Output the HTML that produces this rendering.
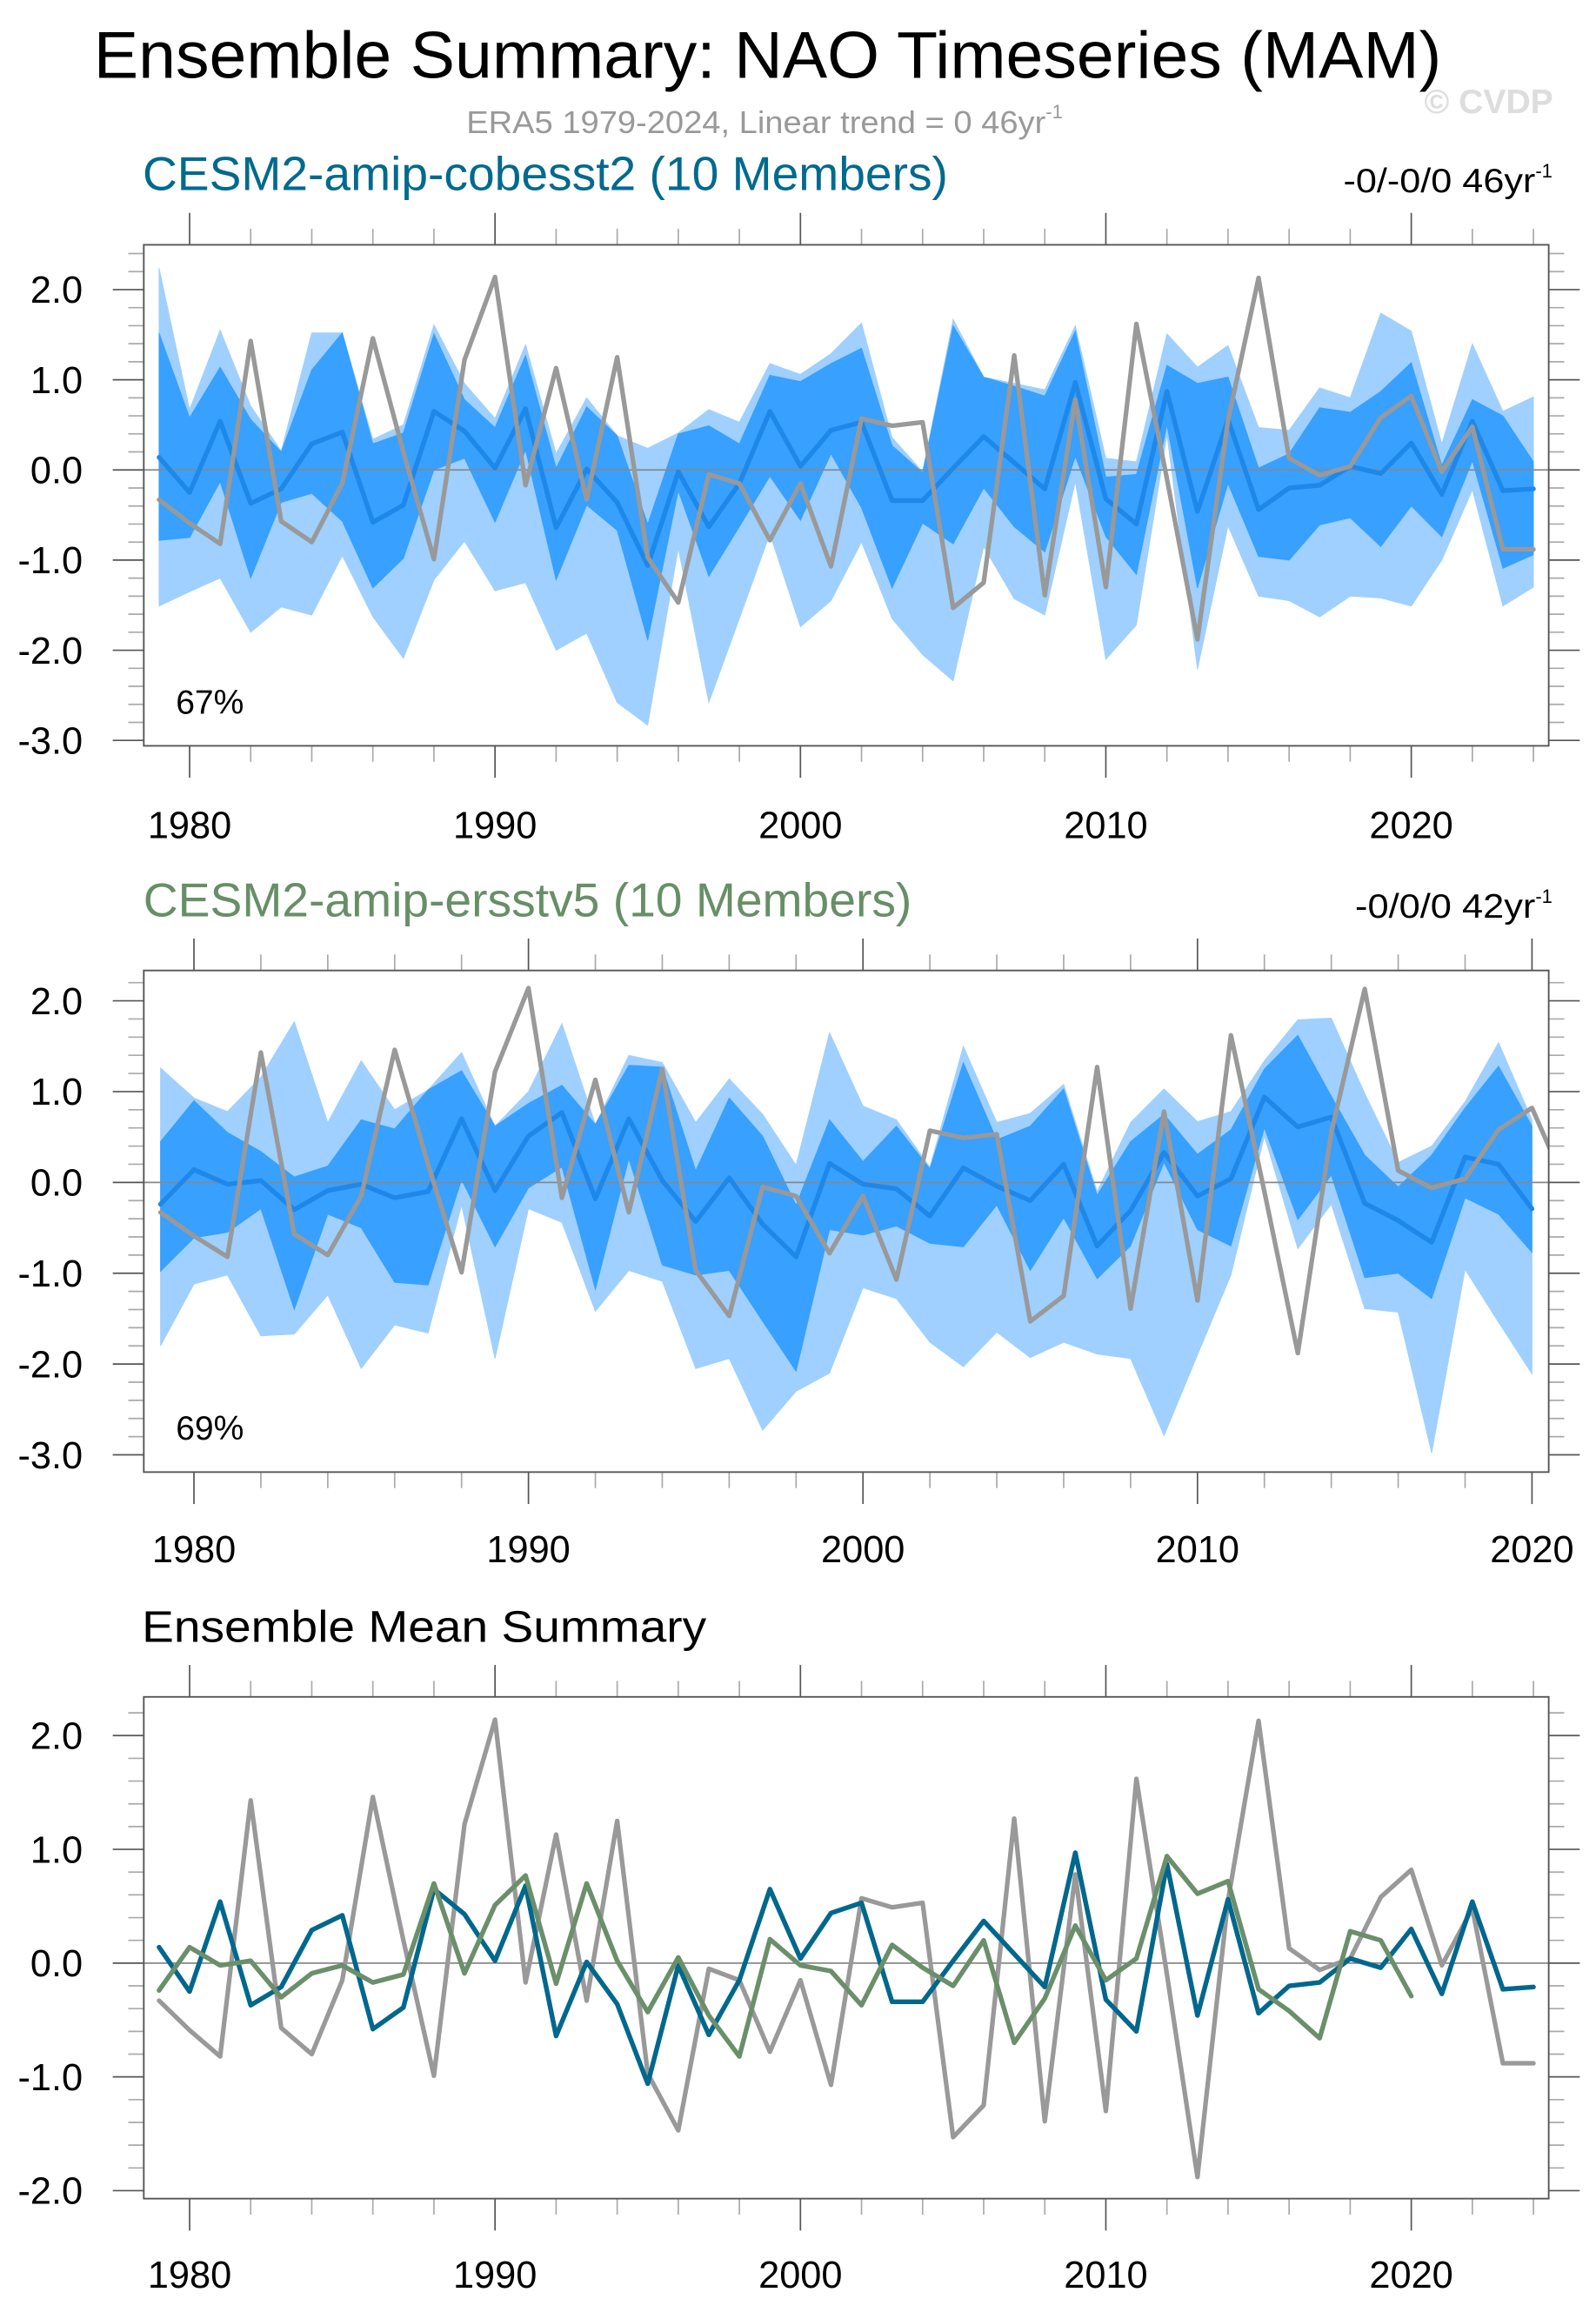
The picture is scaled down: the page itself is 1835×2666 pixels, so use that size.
<!DOCTYPE html>
<html><head><meta charset="utf-8"><title>Ensemble Summary: NAO Timeseries (MAM)</title>
<style>html,body{margin:0;padding:0;background:#fff}svg{display:block}text{font-family:"Liberation Sans",Arial,sans-serif}</style>
</head><body>
<svg id="chart" xmlns="http://www.w3.org/2000/svg" width="1835" height="2666" viewBox="0 0 1080 1569">
<rect x="0" y="0" width="1080" height="1569" fill="#fff"/>
<text x="63.4" y="52.5" font-size="45" textLength="912" lengthAdjust="spacingAndGlyphs" fill="#000">Ensemble Summary: NAO Timeseries (MAM)</text>
<text x="315.6" y="90" font-size="21.5" fill="#999"><tspan textLength="392" lengthAdjust="spacingAndGlyphs">ERA5 1979-2024, Linear trend = 0 46yr</tspan><tspan font-size="13" dy="-10">-1</tspan></text>
<text x="1051" y="76.5" font-size="23" font-weight="bold" fill="#ddd" text-anchor="end">© CVDP</text>
<text x="96.5" y="128.5" font-size="32" textLength="545" lengthAdjust="spacingAndGlyphs" fill="#006a8e">CESM2-amip-cobesst2 (10 Members)</text>
<text x="909" y="130" font-size="23" fill="#000"><tspan textLength="130" lengthAdjust="spacingAndGlyphs">-0/-0/0 46yr</tspan><tspan font-size="13" dy="-10">-1</tspan></text>
<text x="97" y="620" font-size="32" textLength="520" lengthAdjust="spacingAndGlyphs" fill="#678f67">CESM2-amip-ersstv5 (10 Members)</text>
<text x="917" y="621" font-size="23" fill="#000"><tspan textLength="122" lengthAdjust="spacingAndGlyphs">-0/0/0 42yr</tspan><tspan font-size="13" dy="-10">-1</tspan></text>
<text x="96" y="1111" font-size="30" textLength="382" lengthAdjust="spacingAndGlyphs" fill="#000">Ensemble Mean Summary</text>
<g id="layer"></g>
</svg>
<script>
// ---- data ----
const years = [1979,1980,1981,1982,1983,1984,1985,1986,1987,1988,1989,1990,1991,1992,1993,1994,1995,1996,1997,1998,1999,2000,2001,2002,2003,2004,2005,2006,2007,2008,2009,2010,2011,2012,2013,2014,2015,2016,2017,2018,2019,2020,2021,2022,2023,2024];
const era5 = [-0.33,-0.59,-0.82,1.43,-0.57,-0.80,-0.15,1.46,0.20,-0.99,1.22,2.14,-0.17,1.13,-0.33,1.25,-0.97,-1.47,-0.05,-0.15,-0.78,-0.15,-1.07,0.57,0.49,0.53,-1.53,-1.25,1.27,-1.39,0.78,-1.30,1.62,-0.10,-1.88,0.55,2.13,0.13,-0.06,0.04,0.58,0.82,-0.02,0.48,-0.88,-0.88];
const cobMean = [0.14,-0.25,0.54,-0.37,-0.21,0.29,0.42,-0.58,-0.39,0.65,0.43,0.02,0.68,-0.64,0.01,-0.36,-1.06,-0.02,-0.63,-0.15,0.65,0.04,0.44,0.53,-0.34,-0.34,0.02,0.37,0.08,-0.21,0.97,-0.32,-0.60,0.87,-0.46,0.56,-0.44,-0.20,-0.17,0.04,-0.04,0.30,-0.27,0.54,-0.23,-0.21];
const cobMax = [2.24,0.67,1.55,0.71,0.21,1.52,1.52,0.34,0.50,1.61,0.96,0.57,1.39,0.18,0.80,0.38,0.24,0.41,0.67,0.53,1.18,1.06,1.29,1.63,0.36,-0.02,1.67,1.03,0.96,0.89,1.60,0.13,0.09,1.51,1.14,1.38,0.47,0.44,0.91,0.80,1.74,1.54,0.29,1.40,0.65,0.81];
const cobHi = [1.52,0.58,1.14,0.56,0.20,1.11,1.52,0.29,0.41,1.51,0.78,0.47,1.27,0.02,0.70,0.38,-0.60,0.40,0.49,0.29,1.05,0.98,1.18,1.35,0.27,-0.03,1.60,1.03,0.93,0.82,1.54,-0.08,-0.05,1.16,0.96,1.03,0.02,0.18,0.69,0.64,0.87,1.19,0.05,0.78,0.60,0.09];
const cobLo = [-0.78,-0.75,-0.13,-1.20,-0.36,-0.26,-0.57,-1.31,-0.98,0.00,0.13,-0.58,0.22,-1.22,-0.39,-0.67,-1.89,-0.23,-1.18,-0.63,-0.07,-0.56,0.18,-0.42,-1.31,-0.59,-0.82,-0.20,-0.63,-0.91,0.15,-0.74,-1.16,0.50,-1.31,-0.15,-0.96,-1.00,-0.61,-0.53,-0.85,-0.40,-0.74,0.10,-1.09,-0.94];
const cobMin = [-1.51,-1.35,-1.20,-1.80,-1.52,-1.61,-0.95,-1.63,-2.09,-1.22,-0.79,-1.34,-1.25,-2.00,-1.81,-2.58,-2.83,-0.87,-2.58,-1.65,-0.71,-1.74,-1.45,-0.80,-1.65,-2.05,-2.34,-0.85,-1.43,-1.61,-0.13,-2.10,-1.72,0.39,-2.21,-0.62,-1.40,-1.45,-1.63,-1.40,-1.42,-1.51,-1.00,-0.22,-1.51,-1.30];
const ersMean = [-0.24,0.14,-0.02,0.02,-0.30,-0.09,-0.02,-0.17,-0.10,0.70,-0.09,0.51,0.77,-0.18,0.70,0.02,-0.43,0.05,-0.46,-0.82,0.21,-0.02,-0.07,-0.37,0.16,-0.04,-0.20,0.20,-0.70,-0.31,0.33,-0.15,0.04,0.94,0.61,0.72,-0.23,-0.42,-0.66,0.28,0.20,-0.29];
const ersMax = [1.26,0.93,0.78,1.16,1.77,0.66,1.34,0.80,1.02,1.43,0.62,1.00,1.75,0.64,1.40,1.32,0.66,1.14,0.75,0.19,1.65,0.84,0.69,0.17,1.50,0.66,0.76,1.08,-0.10,0.66,1.03,0.67,0.78,1.34,1.79,1.81,0.98,0.22,0.40,0.89,1.54,0.69];
const ersHi = [0.45,0.90,0.55,0.34,0.06,0.18,0.69,0.59,1.02,1.23,0.62,0.87,1.07,0.64,1.29,1.27,0.13,0.93,0.51,-0.25,0.69,0.23,0.62,0.15,1.32,0.47,0.62,1.03,-0.14,0.45,0.75,0.31,0.58,1.25,1.62,0.95,0.30,-0.05,0.30,0.82,1.28,0.62];
const ersLo = [-0.98,-0.61,-0.55,-0.29,-1.40,-0.35,-0.50,-1.10,-1.13,0.03,-0.71,-0.06,0.17,-1.18,0.26,-0.91,-1.02,-0.97,-1.53,-2.08,-0.52,-0.58,-0.48,-0.67,-0.71,-0.25,-0.97,-0.39,-1.06,-0.70,0.22,-0.52,-0.70,0.60,-0.41,0.08,-1.05,-1.00,-1.28,-0.17,-0.35,-0.77];
const ersMin = [-1.80,-1.12,-1.02,-1.69,-1.67,-1.24,-2.05,-1.57,-1.66,-0.25,-1.94,-0.29,-0.44,-1.42,-0.97,-1.09,-2.05,-1.94,-2.73,-2.30,-2.10,-1.16,-1.28,-1.76,-2.03,-1.65,-1.93,-1.76,-1.89,-1.94,-2.79,-1.90,-1.02,0.51,-0.73,-0.24,-1.39,-1.43,-2.98,-0.96,-1.54,-2.11];
const yTicks12 = [2,1,0,-1,-2,-3];
const yTickLabels12 = ["2.0","1.0","0.0","-1.0","-2.0","-3.0"];
const yTicks3 = [2,1,0,-1,-2];
const yTickLabels3 = ["2.0","1.0","0.0","-1.0","-2.0"];
const xTicks = [1980,1990,2000,2010,2020];
const xTickLabels = ["1980","1990","2000","2010","2020"];

// ---- drawing ----
const NS = "http://www.w3.org/2000/svg";
const layer = document.getElementById("layer");
function el(tag, attrs, parent){
  const e = document.createElementNS(NS, tag);
  for (const k in attrs) e.setAttribute(k, attrs[k]);
  (parent||layer).appendChild(e);
  return e;
}
function lin(d0,d1,r0,r1){ return v => r0 + (v-d0)*(r1-r0)/(d1-d0); }

function panel(id, box, xd, yd, xLabY){
  const g = el("g", {});
  
  
  const X = lin(xd[0], xd[1], box.x0, box.x1);
  const Y = lin(yd[0], yd[1], box.y1, box.y0);
  const defs = el("defs", {}, g);
  const cp = el("clipPath", {id: id+"-clip"}, defs);
  el("rect", {x: box.x0, y: box.y0, width: box.x1-box.x0, height: box.y1-box.y0}, cp);
  const plot = el("g", {"clip-path": "url(#"+id+"-clip)"}, g);
  
  
  return {g, plot, X, Y, box, xd, yd, xLabY};
}

function axes(p, yt, ytl){
  const {g, X, Y, box, xd, yd} = p;
  const minorY0 = Math.ceil(yd[0]*5-1e-6), minorY1 = Math.floor(yd[1]*5+1e-6);
  for (let i = minorY0; i <= minorY1; i++){
    const v = i/5, y = Y(v), major = Math.abs(v - Math.round(v)) < 1e-6;
    const L = major ? 21 : 10.5, c = major ? "#555" : "#aaa";
    const t1 = el("line", {x1: box.x0-L, x2: box.x0, y1: y, y2: y, stroke: c, "stroke-width": 1}, g);
    
    
    const t2 = el("line", {x1: box.x1, x2: box.x1+L, y1: y, y2: y, stroke: c, "stroke-width": 1}, g);
    
    
  }
  for (let yr = Math.ceil(xd[0]/2)*2; yr <= xd[1]; yr += 2){
    const x = X(yr), major = yr % 10 === 0;
    const L = major ? 21.6 : 10.8, c = major ? "#555" : "#aaa";
    const b = el("line", {x1: x, x2: x, y1: box.y1, y2: box.y1+L, stroke: c, "stroke-width": 1}, g);
    
    
    const t = el("line", {x1: x, x2: x, y1: box.y0-L, y2: box.y0, stroke: c, "stroke-width": 1}, g);
    
    
  }
  yt.forEach((v,i) => {
    const t = el("text", {x: 56, y: Y(v)+9, "font-size": 25.5, "text-anchor": "end", fill: "#000"}, g);
    
    
    t.textContent = ytl[i];
  });
  xTicks.forEach((v,i) => {
    const t = el("text", {x: X(v), y: p.xLabY, "font-size": 25.5, "text-anchor": "middle", fill: "#000"}, g);
    
    
    t.textContent = xTickLabels[i];
  });
  const r = el("rect", {x: box.x0, y: box.y0, width: box.x1-box.x0, height: box.y1-box.y0, fill: "none", stroke: "#555", "stroke-width": 1.1}, g);
  
  
}

function band(p, xs, hi, lo, color, name){
  let pts = xs.map((yr,i) => p.X(yr).toFixed(2)+","+p.Y(hi[i]).toFixed(2));
  for (let i = xs.length-1; i >= 0; i--) pts.push(p.X(xs[i]).toFixed(2)+","+p.Y(lo[i]).toFixed(2));
  const e = el("polygon", {points: pts.join(" "), fill: color, stroke: color, "stroke-width": 0.5}, p.plot);
  
  
}
function series(p, xs, vals, color, w, name){
  const pts = vals.map((v,i) => p.X(xs[i]).toFixed(2)+","+p.Y(v).toFixed(2)).join(" ");
  const e = el("polyline", {points: pts, fill: "none", stroke: color, "stroke-width": w, "stroke-linejoin": "round", "stroke-linecap": "round"}, p.plot);
  
  
}
function zero(p, name){
  const e = el("line", {x1: p.box.x0, x2: p.box.x1, y1: p.Y(0), y2: p.Y(0), stroke: "#888", "stroke-width": 1}, p.plot);
  
  
}
function pctLabel(p, txt, y, name){
  const t = el("text", {x: 119, y: y, "font-size": 23, fill: "#000"}, p.g);
  
  
  t.textContent = txt;
}

const LIGHT = "#9fd0ff", DARK = "#38a0ff", MEANC = "#1e88ea", GRAY = "#999999";
const yearsE = years.slice(0, ersMean.length);

// Panel 1
const p1 = panel("panel1-cobesst2", {x0: 97.3, y0: 165.6, x1: 1048, y1: 504.6}, [1978.5, 2024.5], [-3.06, 2.497], 567);
band(p1, years, cobMax, cobMin, LIGHT, "cobesst2-minmax-band");
band(p1, years, cobHi, cobLo, DARK, "cobesst2-67pct-band");
zero(p1, "panel1-zero-line");
series(p1, years, cobMean, MEANC, 3.2, "cobesst2-ensemble-mean-line");
series(p1, years, era5, GRAY, 3.1, "era5-line-panel1");
axes(p1, yTicks12, yTickLabels12);
pctLabel(p1, "67%", 483, "panel1-percent-label");

// Panel 2
const p2 = panel("panel2-ersstv5", {x0: 97.3, y0: 656.6, x1: 1048, y1: 996}, [1978.5, 2020.5], [-3.19, 2.334], 1057);
band(p2, yearsE, ersMax, ersMin, LIGHT, "ersstv5-minmax-band");
band(p2, yearsE, ersHi, ersLo, DARK, "ersstv5-69pct-band");
zero(p2, "panel2-zero-line");
series(p2, yearsE, ersMean, MEANC, 3.2, "ersstv5-ensemble-mean-line");
series(p2, years, era5, GRAY, 3.1, "era5-line-panel2");
axes(p2, yTicks12, yTickLabels12);
pctLabel(p2, "69%", 974, "panel2-percent-label");

// Panel 3
const p3 = panel("panel3-ensemble-mean", {x0: 97.3, y0: 1148.1, x1: 1048, y1: 1487.6}, [1978.5, 2024.5], [-2.07, 2.34], 1548);
zero(p3, "panel3-zero-line");
series(p3, years, era5, GRAY, 3.1, "era5-line-panel3");
series(p3, years, cobMean, "#00678d", 3.2, "cobesst2-mean-line");
series(p3, yearsE, ersMean, "#6a8f6a", 3.2, "ersstv5-mean-line");
axes(p3, yTicks3, yTickLabels3);
</script>
</body></html>
